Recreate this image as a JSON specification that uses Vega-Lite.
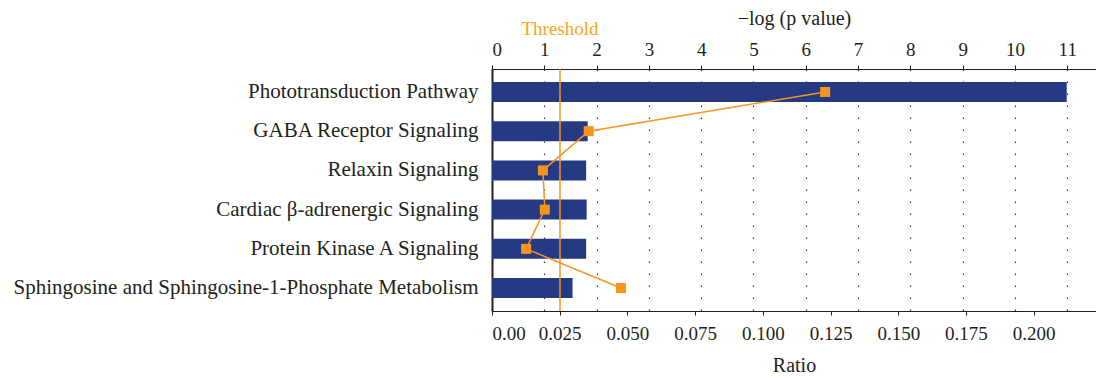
{
  "$schema": "https://vega.github.io/schema/vega-lite/v6.json",
  "width": 604,
  "height": 242,
  "autosize": {"type": "none"},
  "padding": {"left": 492, "top": 69, "right": 0, "bottom": 67},
  "background": "white",
  "config": {
    "font": "Liberation Serif",
    "view": {"stroke": null},
    "axis": {
      "labelFont": "Liberation Serif",
      "titleFont": "Liberation Serif",
      "labelColor": "#231f20",
      "titleColor": "#231f20",
      "domainColor": "#231f20",
      "tickColor": "#231f20",
      "titleFontWeight": "normal"
    }
  },
  "datasets": {
    "pathways": [
      {"pathway": "Phototransduction Pathway", "neglogp": 10.99, "ratio": 0.123, "order": 1},
      {"pathway": "GABA Receptor Signaling", "neglogp": 1.83, "ratio": 0.0357, "order": 2},
      {"pathway": "Relaxin Signaling", "neglogp": 1.80, "ratio": 0.0188, "order": 3},
      {"pathway": "Cardiac β-adrenergic Signaling", "neglogp": 1.81, "ratio": 0.0195, "order": 4},
      {"pathway": "Protein Kinase A Signaling", "neglogp": 1.80, "ratio": 0.0126, "order": 5},
      {"pathway": "Sphingosine and Sphingosine-1-Phosphate Metabolism", "neglogp": 1.54, "ratio": 0.0476, "order": 6}
    ],
    "threshold": [
      {"value": 1.3, "label": "Threshold"}
    ]
  },
  "layer": [
    {
      "layer": [
        {
          "data": {"name": "pathways"},
          "mark": {"type": "bar", "color": "#263a84"},
          "encoding": {
            "y": {
              "field": "pathway", "type": "nominal", "sort": {"field": "order"},
              "scale": {"paddingInner": 0.49, "paddingOuter": 0.33},
              "axis": {"title": null, "labelFontSize": 21, "ticks": false, "labelPadding": 14, "domainWidth": 2, "labelLimit": 0}
            },
            "x": {
              "field": "neglogp", "type": "quantitative",
              "scale": {"domain": [0, 11.55], "nice": false, "zero": true},
              "axis": {
                "orient": "top",
                "title": "−log (p value)",
                "titleFontSize": 20,
                "titlePadding": 12,
                "values": [0, 1, 2, 3, 4, 5, 6, 7, 8, 9, 10, 11],
                "labelFontSize": 19,
                "labelPadding": 6,
                "tickSize": 4,
                "grid": true,
                "gridDash": [1.5, 10.5],
                "gridColor": "#333333",
                "gridWidth": 1.2,
                "gridOpacity": 1
              }
            }
          }
        },
        {
          "data": {"name": "threshold"},
          "mark": {"type": "rule", "color": "#f7941d", "strokeWidth": 1.5},
          "encoding": {"x": {"field": "value", "type": "quantitative"}}
        },
        {
          "data": {"name": "threshold"},
          "mark": {"type": "text", "color": "#f5a623", "fontSize": 19, "dy": -40, "baseline": "middle", "align": "center"},
          "encoding": {
            "x": {"field": "value", "type": "quantitative"},
            "y": {"value": 0},
            "text": {"field": "label"}
          }
        }
      ]
    },
    {
      "data": {"name": "pathways"},
      "layer": [
        {
          "mark": {"type": "line", "color": "#f7941d", "strokeWidth": 1.5},
          "encoding": {
            "y": {"field": "pathway", "type": "nominal", "sort": {"field": "order"}},
            "x": {
              "field": "ratio", "type": "quantitative",
              "scale": {"domain": [0, 0.223], "nice": false, "zero": true},
              "axis": {
                "orient": "bottom",
                "title": "Ratio",
                "titleFontSize": 20,
                "titlePadding": 12,
                "values": [0, 0.025, 0.05, 0.075, 0.1, 0.125, 0.15, 0.175, 0.2],
                "labelExpr": "datum.value == 0 ? '0.00' : format(datum.value, '.3f')",
                "labelFontSize": 19,
                "labelPadding": 9,
                "tickSize": 4,
                "grid": false
              }
            },
            "order": {"field": "order"}
          }
        },
        {
          "mark": {"type": "point", "shape": "square", "filled": true, "size": 100, "color": "#f7941d", "opacity": 1},
          "encoding": {
            "y": {"field": "pathway", "type": "nominal", "sort": {"field": "order"}},
            "x": {"field": "ratio", "type": "quantitative"}
          }
        }
      ]
    }
  ],
  "resolve": {"scale": {"x": "independent"}, "axis": {"x": "independent"}}
}
